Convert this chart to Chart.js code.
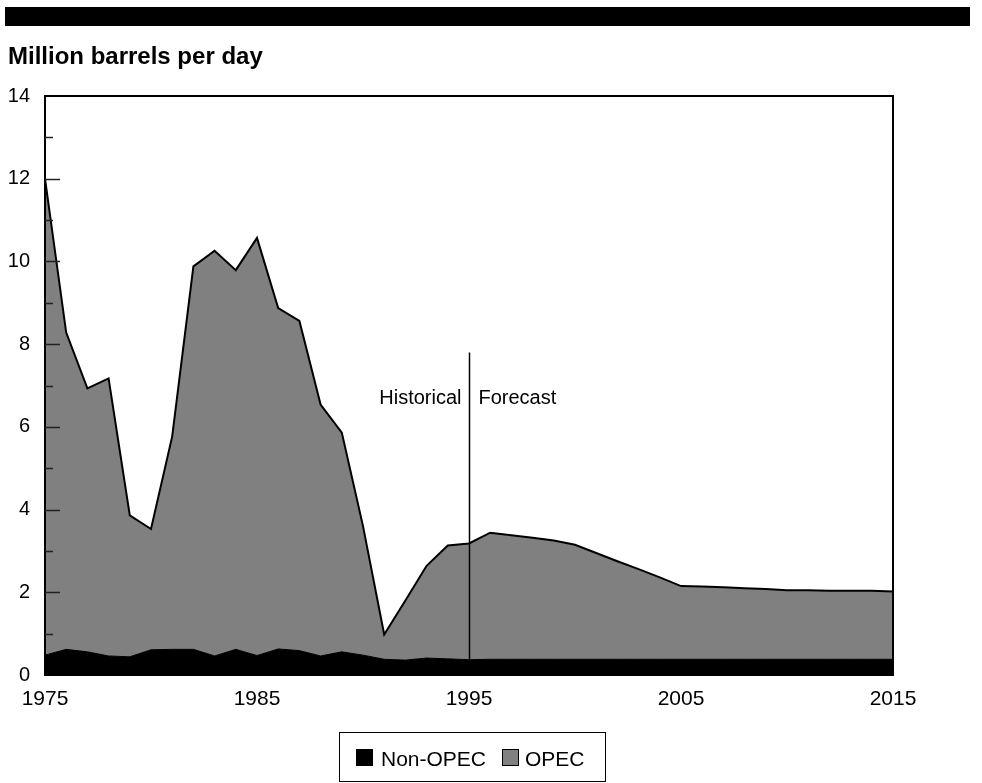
<!DOCTYPE html>
<html>
<head>
<meta charset="utf-8">
<script src="https://cdn.jsdelivr.net/npm/chart.js@4/dist/chart.umd.min.js"></script>
<style>
  html, body { margin: 0; padding: 0; background: #fff; }
  #wrap { width: 982px; height: 783px; position: relative; }
</style>
</head>
<body>
<div id="wrap"><canvas id="c" width="982" height="783"></canvas></div>
<script>
// ---- Data ----
const years = [1975,1976,1977,1978,1979,1980,1981,1982,1983,1984,1985,1986,1987,1988,1989,1990,
               1991,1992,1993,1994,1995,1996,1997,1998,1999,2000,2001,2002,2003,2004,2005,
               2006,2007,2008,2009,2010,2011,2012,2013,2014,2015];
const nonOpec = [0.48,0.62,0.56,0.46,0.44,0.61,0.62,0.62,0.46,0.62,0.47,0.63,0.59,0.46,0.56,0.48,
                 0.38,0.36,0.41,0.39,0.37,0.38,0.38,0.38,0.38,0.38,0.38,0.38,0.38,0.38,0.38,
                 0.38,0.38,0.38,0.38,0.38,0.38,0.38,0.38,0.38,0.38];
const opec = [11.52,7.66,6.37,6.71,3.42,2.92,5.15,9.26,9.80,9.17,10.10,8.24,7.97,6.08,5.30,3.12,
              0.60,1.44,2.23,2.74,2.81,3.06,3.00,2.94,2.87,2.77,2.57,2.37,2.18,1.98,1.77,
              1.76,1.74,1.72,1.70,1.67,1.67,1.66,1.66,1.66,1.64];
const xTickYears = [1975,1985,1995,2005,2015];
const yTickValues = [0,2,4,6,8,10,12,14];
const seriesNames = ["Non-OPEC","OPEC"];
const titleText = "Million barrels per day";
const dividerYear = 1995;
const dividerTop = 7.8;
const leftNote = "Historical";
const rightNote = "Forecast";

const FONT = "'Liberation Sans', Arial, Helvetica, sans-serif";

const decorations = {
  id: 'decorations',
  afterDraw(chart) {
    const ctx = chart.ctx;
    const a = chart.chartArea;
    const xs = chart.scales.x, ys = chart.scales.y;
    ctx.save();
    // top black band
    ctx.fillStyle = '#000';
    ctx.fillRect(5, 7, 965, 19);
    // title
    ctx.font = 'bold 24px ' + FONT;
    ctx.textBaseline = 'alphabetic';
    ctx.textAlign = 'left';
    ctx.fillText(titleText, 8, 64);
    // frame
    ctx.strokeStyle = '#000';
    ctx.lineWidth = 2;
    ctx.strokeRect(a.left, a.top, a.right - a.left, a.bottom - a.top);
    // inward y ticks (major every 2, minor every 1)
    ctx.lineWidth = 1.5;
    ctx.strokeStyle = '#222';
    for (let v = 1; v < 14; v++) {
      const py = Math.round(ys.getPixelForValue(v)) + 0.5;
      const len = (v % 2 === 0) ? 15 : 8;
      ctx.beginPath();
      ctx.moveTo(a.left, py);
      ctx.lineTo(a.left + len, py);
      ctx.stroke();
    }
    // historical / forecast divider
    const dx = Math.round(xs.getPixelForValue(dividerYear)) + 0.5;
    ctx.strokeStyle = '#000';
    ctx.lineWidth = 1.5;
    ctx.beginPath();
    ctx.moveTo(dx, ys.getPixelForValue(dividerTop));
    ctx.lineTo(dx, ys.getPixelForValue(0));
    ctx.stroke();
    ctx.font = '20px ' + FONT;
    ctx.fillStyle = '#000';
    const ny = ys.getPixelForValue(6.55);
    ctx.textAlign = 'right';
    ctx.fillText(leftNote, dx - 8, ny);
    ctx.textAlign = 'left';
    ctx.fillText(rightNote, dx + 9, ny);
    // legend box
    ctx.lineWidth = 1;
    ctx.strokeStyle = '#000';
    ctx.strokeRect(339.5, 732.5, 266, 49);
    ctx.fillStyle = '#000';
    ctx.fillRect(356, 749, 17, 17);
    ctx.font = '21px ' + FONT;
    ctx.textAlign = 'left';
    ctx.fillText(seriesNames[0], 381, 766);
    ctx.fillStyle = '#808080';
    ctx.fillRect(502, 749, 17, 17);
    ctx.strokeRect(502.5, 749.5, 16, 16);
    ctx.fillStyle = '#000';
    ctx.fillText(seriesNames[1], 525, 766);
    ctx.restore();
  }
};

const toXY = arr => years.map((yr, i) => ({ x: yr, y: arr[i] }));

new Chart(document.getElementById('c'), {
  type: 'line',
  data: {
    datasets: [
      {
        label: seriesNames[0],
        data: toXY(nonOpec),
        backgroundColor: '#000',
        borderColor: '#000',
        borderWidth: 1,
        fill: 'origin',
        pointRadius: 0,
        tension: 0
      },
      {
        label: seriesNames[1],
        data: toXY(opec),
        backgroundColor: '#808080',
        borderColor: '#000',
        borderWidth: 2,
        fill: '-1',
        pointRadius: 0,
        tension: 0
      }
    ]
  },
  options: {
    responsive: false,
    animation: false,
    devicePixelRatio: 1,
    layout: { padding: { top: 96, right: 89, left: 0, bottom: 0 } },
    plugins: {
      legend: { display: false },
      tooltip: { enabled: false },
      title: { display: false }
    },
    scales: {
      x: {
        type: 'linear',
        min: 1975,
        max: 2015,
        afterBuildTicks: s => { s.ticks = xTickYears.map(v => ({ value: v })); },
        afterFit: s => { s.height = 108; },
        ticks: {
          color: '#000',
          font: { family: FONT, size: 21 },
          padding: 12,
          maxRotation: 0,
          callback: v => String(v)
        },
        grid: { display: false, drawTicks: false },
        border: { display: false }
      },
      y: {
        stacked: true,
        min: 0,
        max: 14,
        afterBuildTicks: s => { s.ticks = yTickValues.map(v => ({ value: v })); },
        afterFit: s => { s.width = 45; },
        ticks: {
          color: '#000',
          font: { family: FONT, size: 20 },
          padding: 15
        },
        grid: { display: false, drawTicks: false },
        border: { display: false }
      }
    }
  },
  plugins: [decorations]
});
</script>
</body>
</html>
